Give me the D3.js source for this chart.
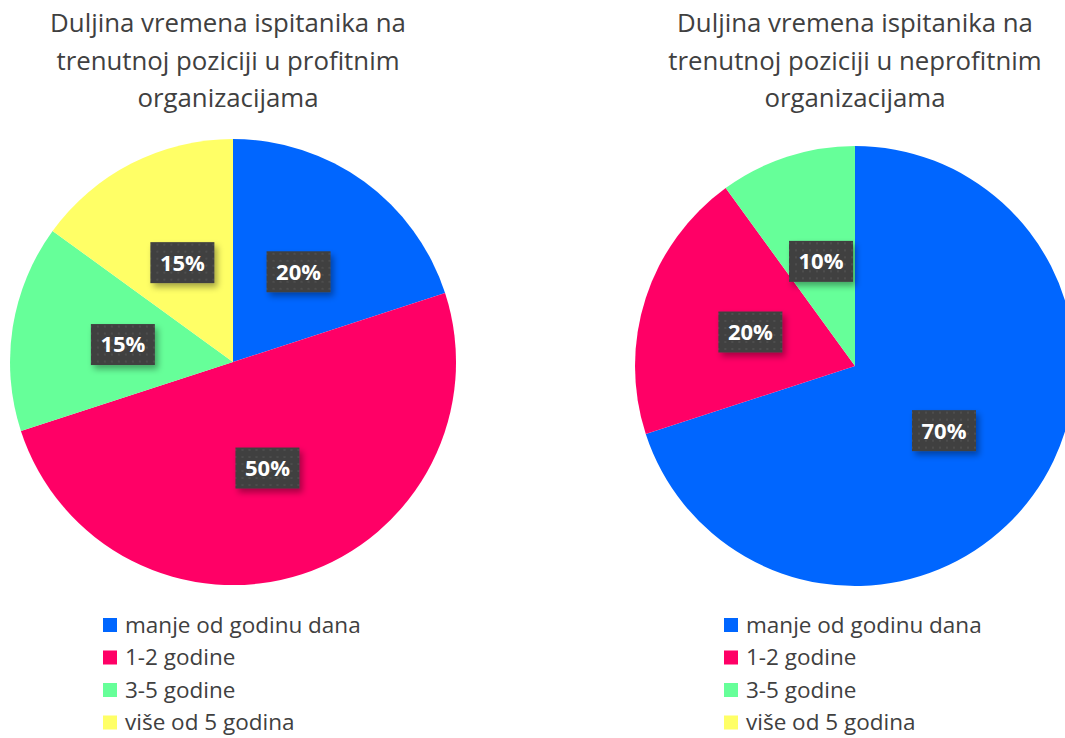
<!DOCTYPE html>
<html>
<head>
<meta charset="utf-8">
<script src="https://cdn.jsdelivr.net/npm/d3@7"></script>
<style>
  body { margin: 0; background: #fff; }
  svg { display: block; }
</style>
</head>
<body>
<div id="chart"></div>
<script>
// data
const categories = ['manje od godinu dana', '1-2 godine', '3-5 godine', 'više od 5 godina']
const colors = ['#0066FF', '#FF0066', '#66FF99', '#FFFF66']
const profitValues = [20, 50, 15, 15]
const nonprofitValues = [70, 20, 10, 0]
const profitTitle = ['Duljina vremena ispitanika na', 'trenutnoj poziciji u profitnim', 'organizacijama']
const nonprofitTitle = ['Duljina vremena ispitanika na', 'trenutnoj poziciji u neprofitnim', 'organizacijama']

const width = 1065
const height = 738
const font = '"Open Sans", "DejaVu Sans", sans-serif'

const svg = d3.select('#chart').append('svg')
  .attr('width', width)
  .attr('height', height)

const defs = svg.append('defs')

// dotted texture on the label boxes
const pat = defs.append('pattern')
  .attr('id', 'dots')
  .attr('width', 7)
  .attr('height', 7)
  .attr('patternUnits', 'userSpaceOnUse')
pat.append('rect').attr('width', 7).attr('height', 7).attr('fill', '#404040')
pat.append('rect').attr('x', 2).attr('y', 2).attr('width', 2).attr('height', 2).attr('fill', '#4d4d4d')

const shadow = defs.append('filter')
  .attr('id', 'shadow')
  .attr('x', '-30%').attr('y', '-30%')
  .attr('width', '170%').attr('height', '170%')
shadow.append('feDropShadow')
  .attr('dx', 3).attr('dy', 4)
  .attr('stdDeviation', 3)
  .attr('flood-color', '#000')
  .attr('flood-opacity', 0.35)

const drawPie = (values, title, cx, cy, r, titleX, legendX) => {
  const data = values.map((v, i) => ({ name: categories[i], value: v, color: colors[i] }))

  const pie = d3.pie().value(d => d.value).sort(null)
  const arc = d3.arc().innerRadius(0).outerRadius(r)

  const g = svg.append('g').attr('transform', `translate(${cx}, ${cy})`)
  const arcs = pie(data).filter(d => d.data.value > 0)

  g.selectAll('path')
    .data(arcs)
    .join('path')
    .attr('d', arc)
    .attr('fill', d => d.data.color)

  // labels in the middle of each slice
  const labels = g.selectAll('g.lbl')
    .data(arcs)
    .join('g')
    .attr('class', 'lbl')
    .attr('transform', d => `translate(${arc.centroid(d)})`)

  labels.append('rect')
    .attr('x', -32).attr('y', -20.5)
    .attr('width', 64).attr('height', 41)
    .attr('fill', 'url(#dots)')
    .attr('filter', 'url(#shadow)')

  labels.append('text')
    .attr('text-anchor', 'middle')
    .attr('dy', '0.36em')
    .attr('fill', '#fff')
    .style('font-family', font)
    .style('font-weight', 'bold')
    .style('font-size', '22px')
    .text(d => d.data.value + '%')

  // title
  svg.append('text')
    .attr('x', titleX)
    .attr('text-anchor', 'middle')
    .attr('fill', '#404040')
    .style('font-family', font)
    .style('font-size', '25.8px')
    .selectAll('tspan')
    .data(title)
    .join('tspan')
    .attr('x', titleX)
    .attr('y', (d, i) => 32 + i * 37.5)
    .text(d => d)

  // legend
  const legend = svg.append('g')
    .selectAll('g')
    .data(data)
    .join('g')
    .attr('transform', (d, i) => `translate(${legendX}, ${625 + i * 32.5})`)

  legend.append('rect')
    .attr('x', 0).attr('y', -7)
    .attr('width', 14).attr('height', 14)
    .attr('fill', d => d.color)

  legend.append('text')
    .attr('x', 22)
    .attr('dy', '0.35em')
    .attr('fill', '#404040')
    .style('font-family', font)
    .style('font-size', '22.5px')
    .text(d => d.name)
}

drawPie(profitValues, profitTitle, 233, 362, 223, 228, 103)
drawPie(nonprofitValues, nonprofitTitle, 855, 366, 220, 855, 724)
</script>
</body>
</html>
